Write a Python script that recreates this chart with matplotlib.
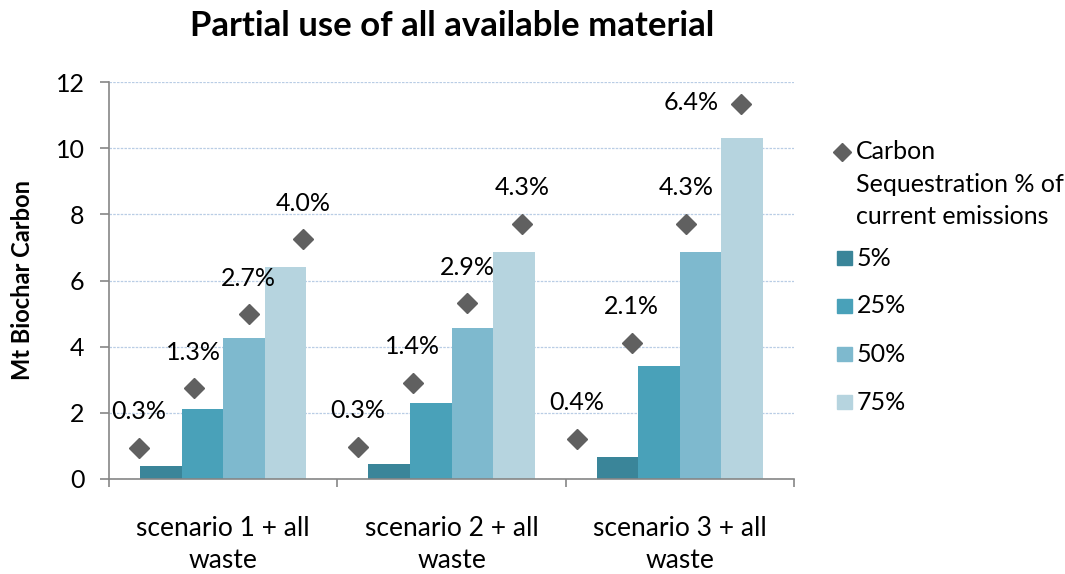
import matplotlib.pyplot as plt
import numpy as np
from matplotlib.patches import Rectangle
from matplotlib.lines import Line2D

plt.rcParams['font.family'] = ['Lato', 'DejaVu Sans']

# scenarios on the category axis
categories = ['scenario 1 + all\nwaste', 'scenario 2 + all\nwaste', 'scenario 3 + all\nwaste']

# Mt biochar carbon for each share of material used
series_names = ['5%', '25%', '50%', '75%']
use_5 = [0.40, 0.44, 0.67]
use_25 = [2.11, 2.29, 3.42]
use_50 = [4.26, 4.57, 6.86]
use_75 = [6.40, 6.85, 10.30]
bar_colors = ['#3A8599', '#49A1B9', '#7EB9CE', '#B6D4DF']

# carbon sequestration points and their labels
seq_values = [0.95, 2.74, 4.98, 7.24, 0.98, 2.91, 5.31, 7.71, 1.22, 4.12, 7.72, 11.35]
seq_labels = ['0.3%', '1.3%', '2.7%', '4.0%', '0.3%', '1.4%', '2.9%', '4.3%',
              '0.4%', '2.1%', '4.3%', '6.4%']
seq_name = 'Carbon\nSequestration % of\ncurrent emissions'

W, H = 1065, 574
fs = 18
fig = plt.figure(figsize=(W / 100, H / 100), dpi=100)
ax = fig.add_axes([109 / W, 1 - 479 / H, (794 - 109) / W, (479 - 82) / H])

axis_grey = '#868686'
n = len(series_names)
w = 1 / (n + 1.5)  # 150% gap between groups
x = np.arange(len(categories))
for i, (vals, col) in enumerate(zip([use_5, use_25, use_50, use_75], bar_colors)):
    ax.bar(x + 0.5 + (i - (n - 1) / 2) * w, vals, width=w, color=col, zorder=2)

ax.set_xlim(0, len(categories))
ax.set_ylim(0, 12)
ax.set_yticks(np.arange(0, 13, 2))
ax.set_xticks(np.arange(len(categories) + 1))
ax.set_xticklabels([])
ax.set_xticks(x + 0.5, minor=True)
ax.set_xticklabels(categories, minor=True, fontsize=19, linespacing=1.32)
ax.tick_params(axis='x', which='minor', length=0, pad=27)
ax.tick_params(axis='x', which='major', length=6, width=1.2, color=axis_grey)
ax.tick_params(axis='y', length=6.5, width=1.2, color=axis_grey, labelsize=fs, pad=11)
ax.grid(axis='y', color='#B9CDE5', linestyle=(0, (2, 1)), linewidth=0.9, zorder=0)
for s in ['top', 'right']:
    ax.spines[s].set_visible(False)
for s in ['left', 'bottom']:
    ax.spines[s].set_color(axis_grey)
    ax.spines[s].set_linewidth(1.2)
ax.set_ylabel('Mt Biochar Carbon', fontsize=17, fontweight='bold', va='center')
ax.yaxis.set_label_coords(-0.127, 0.5)

# sequestration markers sit on their own evenly spaced x scale
ax2 = ax.twiny()
ax2.set_xlim(0.45, 12.97)
ax2.axis('off')
idx = np.arange(1, len(seq_values) + 1)
ax2.plot(idx, seq_values, linestyle='none', marker='D', markersize=10,
         color='#606060', zorder=3)
for xv, yv, lab in zip(idx, seq_values, seq_labels):
    off = (-36, 1) if yv > 10 else (0, 26)
    ax2.annotate(lab, (xv, yv), xytext=off, textcoords='offset points',
                 ha='center', va='center', fontsize=fs)

fig.text(452 / W, 1 - 26 / H, 'Partial use of all available material',
         ha='center', va='center', fontsize=25, fontweight='bold')


# legend on the right
def fx(px):
    return px / W


def fy(py):
    return 1 - py / H


fig.add_artist(Line2D([fx(842)], [fy(152)], marker='D', markersize=9,
                      color='#606060', linestyle='none'))
fig.text(fx(856), fy(140), seq_name, fontsize=fs, va='top', linespacing=1.5)
for j, (name, col) in enumerate(zip(series_names, bar_colors)):
    yc = 258 + j * 48
    fig.add_artist(Rectangle((fx(837), fy(yc + 7)), fx(15), 14 / H, color=col))
    fig.text(fx(857), fy(yc), name, fontsize=fs, va='center')

fig.savefig('out.png', dpi=100)
